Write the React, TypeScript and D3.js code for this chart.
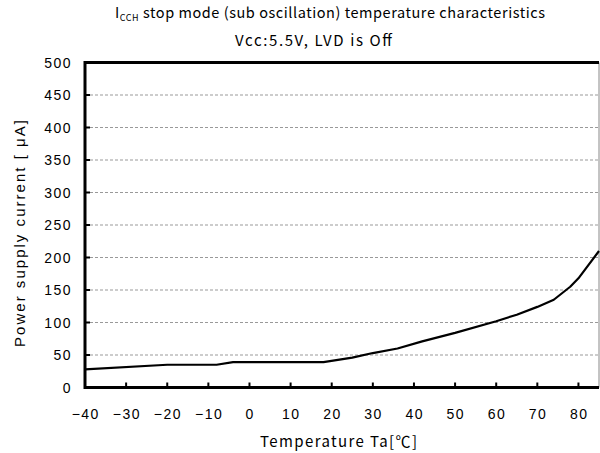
import React from "react";
import * as d3 from "d3";

const temps = [-40, -20, -8, -4, 18, 25, 30, 36, 42, 50, 60, 65, 70, 74, 78, 80, 85];
const currents = [28, 35, 35, 39, 39, 46, 53, 60, 71, 84, 102, 112, 124, 135, 155, 168, 210];
const xTicks = [-40, -30, -20, -10, 0, 10, 20, 30, 40, 50, 60, 70, 80];
const yTicks = [0, 50, 100, 150, 200, 250, 300, 350, 400, 450, 500];

const W = 600, H = 453;
const left = 85, right = 599, top = 62.5, bottom = 387.5;
const FONT = "'Noto Sans CJK JP', 'DejaVu Sans', sans-serif";
const NUMFONT = "'Liberation Sans', Arial, sans-serif";

export default function App() {
  const x = d3.scaleLinear().domain([-40, 85]).range([left, right]);
  const y = d3.scaleLinear().domain([0, 500]).range([bottom, top]);
  const line = d3.line<number>().x((_, i) => x(temps[i])).y((d) => y(d));
  const path = line(currents) || "";
  return (
    <svg width={W} height={H} style={{ position: "absolute", left: 0, top: 0, background: "#fff" }} fontFamily={FONT}>
      <rect x={0} y={0} width={W} height={H} fill="#fff" />
      {yTicks.filter((t) => t > 0 && t < 500).map((t) => (
        <line key={"g" + t} x1={left} x2={right} y1={y(t)} y2={y(t)} stroke="#999" strokeWidth={1} strokeDasharray="3,2" />
      ))}
      <line x1={right} x2={right} y1={top} y2={bottom} stroke="#888" strokeWidth={1} />
      <path d={path} fill="none" stroke="#000" strokeWidth={2.2} strokeLinejoin="round" />
      <line x1={left} x2={right} y1={top} y2={top} stroke="#000" strokeWidth={3} />
      <line x1={left} x2={left} y1={top - 1.5} y2={bottom + 1.5} stroke="#000" strokeWidth={3} />
      <line x1={left} x2={right} y1={bottom} y2={bottom} stroke="#000" strokeWidth={3} />
      {yTicks.map((t) => (
        <g key={"y" + t}>
          <line x1={left} x2={left + 5} y1={y(t)} y2={y(t)} stroke="#000" strokeWidth={2} />
          <text x={72} y={y(t)} dy="0.36em" textAnchor="end" fontSize={14} fontFamily={NUMFONT} letterSpacing={1.5}>{t}</text>
        </g>
      ))}
      {xTicks.map((t) => (
        <g key={"x" + t}>
          <line x1={x(t)} x2={x(t)} y1={bottom} y2={bottom - 5} stroke="#000" strokeWidth={2} />
          <text x={x(t) + 0.75} y={419} textAnchor="middle" fontSize={14} fontFamily={NUMFONT} letterSpacing={1.5}>{t < 0 ? "−" + Math.abs(t) : t}</text>
        </g>
      ))}
      <text x={115} y={18} fontSize={14.5} textLength={430} lengthAdjust="spacing">
        I<tspan fontSize={9} dy={3}>CCH</tspan><tspan dy={-3}> stop mode (sub oscillation) temperature characteristics</tspan>
      </text>
      <text x={235} y={46} fontSize={15} textLength={157} lengthAdjust="spacing">Vcc:5.5V, LVD is Off</text>
      <text x={260} y={447} fontSize={15} textLength={157} lengthAdjust="spacing">Temperature Ta[℃]</text>
      <text transform={`translate(25, 347) rotate(-90)`} fontSize={15} fontFamily={NUMFONT} textLength={227} lengthAdjust="spacing">Power supply current [ μA]</text>
    </svg>
  );
}
